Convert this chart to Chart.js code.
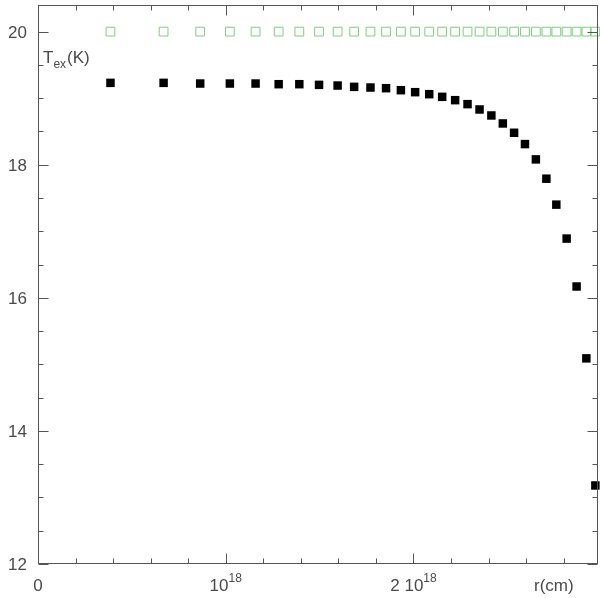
<!DOCTYPE html>
<html>
<head>
  <meta charset="UTF-8">
  <title>Tex(r)</title>
  <script src="https://cdn.jsdelivr.net/npm/chart.js"></script>
  <style>
    html, body { margin:0; padding:0; background:#fff; overflow:hidden; }
    canvas { display:block; }
  </style>
</head>
<body>
  <canvas id="c" width="600" height="598"></canvas>
  <script>
    // radius in units of 1e18 cm
    const radius = [0.386, 0.669, 0.864, 1.022, 1.159, 1.282, 1.392, 1.497, 1.596, 1.684,
                    1.771, 1.854, 1.933, 2.009, 2.084, 2.153, 2.222, 2.288, 2.352, 2.415,
                    2.476, 2.536, 2.594, 2.652, 2.708, 2.761, 2.816, 2.869, 2.921, 2.969];
    // excitation temperature (K), filled squares
    const tex = [19.23, 19.23, 19.22, 19.22, 19.22, 19.21, 19.21, 19.20, 19.19, 19.17,
                 19.16, 19.15, 19.12, 19.09, 19.06, 19.02, 18.97, 18.91, 18.83, 18.74,
                 18.62, 18.48, 18.31, 18.08, 17.79, 17.40, 16.89, 16.17, 15.09, 13.18];
    // kinetic temperature (K), open squares
    const tkin = [20, 20, 20, 20, 20, 20, 20, 20, 20, 20,
                  20, 20, 20, 20, 20, 20, 20, 20, 20, 20,
                  20, 20, 20, 20, 20, 20, 20, 20, 20, 20];
    const xTicks = [0, 1, 2];
    const xTickText = [['0', ''], ['10', '18'], ['2 10', '18']];
    const yTicks = [12, 14, 16, 18, 20];

    const pts = ys => radius.map((r, i) => ({ x: r, y: ys[i] }));
    const FONT = '"Liberation Sans", Arial, sans-serif';
    const INK = '#4a4a4a';

    const frame = {
      id: 'frame',
      afterDraw(chart) {
        const { ctx, chartArea: a, scales: { x, y } } = chart;
        ctx.save();
        ctx.strokeStyle = '#555'; ctx.lineWidth = 1;
        const L = a.left + 0.5, R = a.right - 0.5, T = a.top + 0.5, B = a.bottom - 0.5;
        ctx.strokeRect(L, T, R - L, B - T);
        ctx.beginPath();
        // x ticks every 0.2e18, long at whole units
        for (let k = 0; k * 0.2 <= x.max + 1e-9; k++) {
          const px = Math.round(x.getPixelForValue(k * 0.2)) + 0.5;
          const len = k % 5 === 0 ? 10 : 5;
          ctx.moveTo(px, B); ctx.lineTo(px, B - len);
          ctx.moveTo(px, T); ctx.lineTo(px, T + len);
        }
        // y ticks every 0.5, long at labelled values
        for (let k = 0; 12 + k * 0.5 <= y.max + 1e-9; k++) {
          const py = Math.round(y.getPixelForValue(12 + k * 0.5)) + 0.5;
          const len = k % 4 === 0 ? 10 : 5;
          ctx.moveTo(L, py); ctx.lineTo(L + len, py);
          ctx.moveTo(R, py); ctx.lineTo(R - len, py);
        }
        ctx.stroke();

        ctx.fillStyle = INK;
        ctx.textBaseline = 'alphabetic';
        // y labels
        ctx.font = '17px ' + FONT; ctx.textAlign = 'right';
        yTicks.forEach(v => ctx.fillText(String(v), 27, y.getPixelForValue(v) + 6));
        // x labels with superscript
        xTicks.forEach((v, i) => {
          const [main, sup] = xTickText[i];
          ctx.font = '17px ' + FONT;
          const w1 = ctx.measureText(main).width;
          ctx.font = '12px ' + FONT;
          const w2 = sup ? ctx.measureText(sup).width : 0;
          const x0 = x.getPixelForValue(v) - (w1 + w2) / 2;
          ctx.textAlign = 'left';
          ctx.font = '17px ' + FONT; ctx.fillText(main, x0, 591);
          if (sup) { ctx.font = '12px ' + FONT; ctx.fillText(sup, x0 + w1, 582); }
        });
        ctx.font = '17px ' + FONT; ctx.textAlign = 'left';
        ctx.fillText('r(cm)', 534, 591);
        // y title
        ctx.fillText('T', 43, 63);
        const wT = ctx.measureText('T').width;
        ctx.font = '12px ' + FONT; ctx.fillText('ex', 43 + wT, 68);
        const wE = ctx.measureText('ex').width;
        ctx.font = '17px ' + FONT; ctx.fillText('(K)', 43 + wT + wE + 1, 63);
        ctx.restore();
      }
    };

    new Chart(document.getElementById('c'), {
      type: 'scatter',
      data: {
        datasets: [
          { label: 'Tkin', data: pts(tkin), pointStyle: 'rect', pointRadius: 6.2,
            backgroundColor: 'rgba(0,0,0,0)', borderColor: '#7ccf7c', borderWidth: 1, clip: false },
          { label: 'Tex', data: pts(tex), pointStyle: 'rect', pointRadius: 6,
            backgroundColor: '#000', borderColor: '#000', borderWidth: 0, clip: false }
        ]
      },
      options: {
        responsive: false, animation: false,
        devicePixelRatio: 1,
        layout: { autoPadding: false, padding: { left: 38, top: 5, right: 2, bottom: 34 } },
        plugins: { legend: { display: false }, tooltip: { enabled: false } },
        scales: {
          x: { type: 'linear', min: 0, max: 2.983, display: false },
          y: { type: 'linear', min: 12, max: 20.4, display: false }
        }
      },
      plugins: [frame]
    });
  </script>
</body>
</html>
